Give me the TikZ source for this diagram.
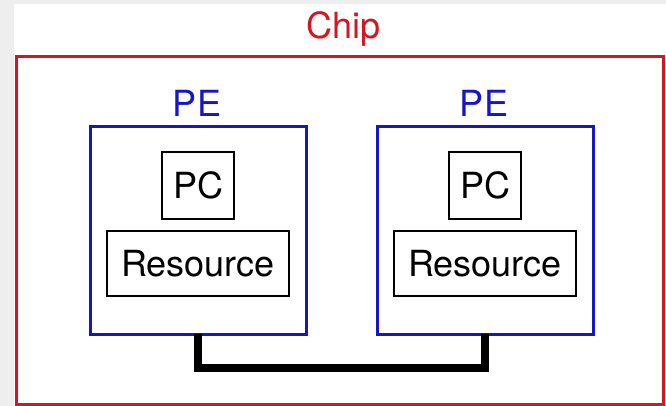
\documentclass[tikz,border=0pt]{standalone}
\usepackage{fontspec}
\setmainfont{TeX Gyre Heros}
\definecolor{chipred}{RGB}{212,22,32}
\definecolor{peblue}{RGB}{22,22,196}
\definecolor{pagegray}{RGB}{238,238,238}
\begin{document}
\begin{tikzpicture}[x=1pt,y=-1pt,
  every node/.style={font=\fontsize{36}{42}\selectfont, inner sep=0pt, outer sep=0pt},
  chipbox/.style={draw=chipred, line width=3pt, minimum width=647pt, minimum height=347pt},
  pebox/.style={draw=peblue, line width=3pt, minimum width=216pt, minimum height=207pt},
  pcbox/.style={draw=black, line width=2.6pt, minimum width=72pt, minimum height=67pt},
  resbox/.style={draw=black, line width=2.6pt, minimum width=182pt, minimum height=65pt},
  title/.style={text=chipred, anchor=base},
  pelabel/.style={text=peblue, anchor=base},
  bus/.style={draw=black, line width=7.5pt, line join=miter}]
  % page and frame
  \fill[pagegray] (0,0) rectangle (666,406);
  \fill[white] (14,4) rectangle (666,406);
  \useasboundingbox (0,0) rectangle (666,406);
  % chip outline
  \node[chipbox] (chip) at (339.5,230.5) {};
  \node[title] (chiplabel) at (343.5,39) {Chip};
  % processing elements
  \node[pebox] (pe1) at (198,230.5) {};
  \node[pebox] (pe2) at (485,230.5) {};
  \node[pelabel] (pe1label) at (197,117) {PE};
  \node[pelabel] (pe2label) at (484,117) {PE};
  % contents of each element
  \node[pcbox] (pc1) at (198,185.5) {PC};
  \node[resbox] (res1) at (198,263.5) {Resource};
  \node[pcbox] (pc2) at (485,185.5) {PC};
  \node[resbox] (res2) at (485,263.5) {Resource};
  % link between the two elements
  \coordinate (buslevel) at (0,368);
  \draw[bus] (pe1.south) |- (buslevel -| pe2.south) -- (pe2.south);
\end{tikzpicture}
\end{document}
